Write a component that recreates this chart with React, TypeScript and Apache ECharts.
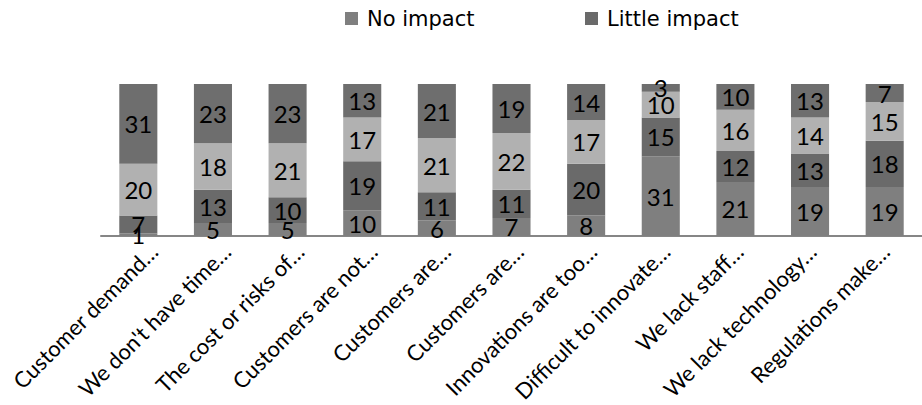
import React, { useEffect, useRef } from "react";
import * as echarts from "echarts";

const categories = [
  "Customer demand…",
  "We don't have time…",
  "The cost or risks of…",
  "Customers are not…",
  "Customers are…",
  "Customers are…",
  "Innovations are too…",
  "Difficult to innovate…",
  "We lack staff…",
  "We lack technology…",
  "Regulations make…",
];

const noImpact = [1, 5, 5, 10, 6, 7, 8, 31, 21, 19, 19];
const littleImpact = [7, 13, 10, 19, 11, 11, 20, 15, 12, 13, 18];
const someImpact = [20, 18, 21, 17, 21, 22, 17, 10, 16, 14, 15];
const largeImpact = [31, 23, 23, 13, 21, 19, 14, 3, 10, 13, 7];

const seriesNames = ["No impact", "Little impact", "Some impact", "Large impact"];
const seriesColors = ["#7f7f7f", "#6a6a6a", "#b1b1b1", "#6e6e6e"];
const seriesValues = [noImpact, littleImpact, someImpact, largeImpact];

export default function App() {
  const ref = useRef<HTMLDivElement>(null);
  useEffect(() => {
    if (!ref.current) return;
    const chart = echarts.init(ref.current, null, { renderer: "svg" });
    const labelFont = "Lato, 'Open Sans', sans-serif";
    const legendText = {
      fontFamily: "'DejaVu Sans', sans-serif",
      fontSize: 21,
      color: "#000",
      padding: [0, 0, 0, 4],
    };
    chart.setOption({
      animation: false,
      backgroundColor: "#ffffff",
      legend: [
        {
          left: 345,
          top: 8,
          padding: 0,
          data: [seriesNames[0]],
          itemWidth: 13,
          itemHeight: 13,
          icon: "rect",
          textStyle: legendText,
        },
        {
          left: 585,
          top: 8,
          padding: 0,
          data: [seriesNames[1]],
          itemWidth: 13,
          itemHeight: 13,
          icon: "rect",
          textStyle: legendText,
        },
      ],
      grid: [
        { left: 101, top: 84, bottom: 169, width: 840, containLabel: false },
        { left: 117, top: 84, bottom: 169, width: 840, containLabel: false },
      ],
      xAxis: [
        {
          type: "category",
          gridIndex: 0,
          data: categories,
          axisLine: { show: true, lineStyle: { color: "#868686", width: 2 } },
          axisTick: { show: false },
          axisLabel: { show: false },
        },
        {
          type: "category",
          gridIndex: 1,
          data: categories,
          axisLine: { show: false },
          axisTick: { show: false },
          axisLabel: {
            show: true,
            interval: 0,
            rotate: 45,
            margin: 16,
            color: "#000",
            fontSize: 22,
            fontFamily: labelFont,
          },
        },
      ],
      yAxis: [
        { type: "value", gridIndex: 0, min: 0, max: 59, show: false, splitLine: { show: false } },
        { type: "value", gridIndex: 1, min: 0, max: 59, show: false, splitLine: { show: false } },
      ],
      series: seriesNames.map((name, i) => ({
        name,
        type: "bar",
        stack: "total",
        xAxisIndex: 0,
        yAxisIndex: 0,
        barWidth: "51%",
        data: seriesValues[i],
        itemStyle: { color: seriesColors[i] },
        label: {
          show: true,
          position: "inside",
          color: "#000",
          fontSize: 24,
          fontFamily: labelFont,
        },
      })),
    });
    return () => chart.dispose();
  }, []);
  return (
    <div
      ref={ref}
      style={{ position: "fixed", left: 0, top: 0, width: 922, height: 405 }}
    />
  );
}
